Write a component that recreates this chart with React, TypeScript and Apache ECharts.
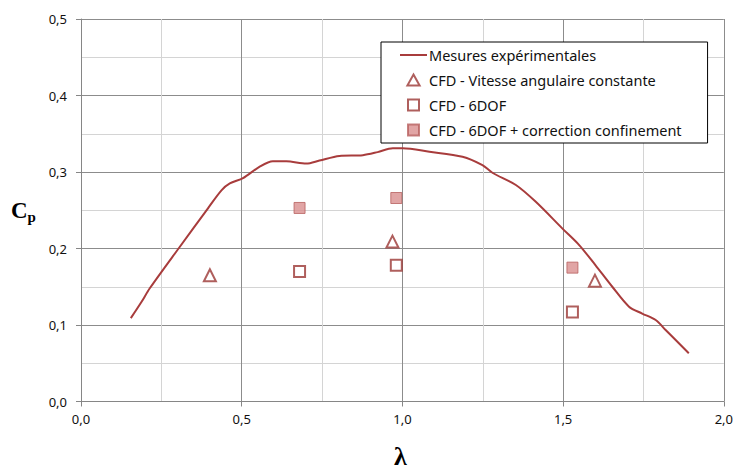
import React, { useEffect, useRef } from "react";
import * as echarts from "echarts";

const seriesNames = [
  "Mesures expérimentales",
  "CFD - Vitesse angulaire constante",
  "CFD - 6DOF",
  "CFD - 6DOF + correction confinement",
];

const mesuresLambda = [0.155, 0.188, 0.214, 0.307, 0.395, 0.437, 0.463, 0.504, 0.556, 0.597, 0.639, 0.701, 0.742, 0.804, 0.877, 0.923, 0.97, 1.001, 1.084, 1.187, 1.249, 1.28, 1.353, 1.415, 1.498, 1.55, 1.601, 1.653, 1.705, 1.746, 1.788, 1.819, 1.891];
const mesuresCp = [0.109, 0.13, 0.148, 0.202, 0.2525, 0.276, 0.285, 0.292, 0.307, 0.314, 0.314, 0.311, 0.315, 0.321, 0.322, 0.326, 0.331, 0.331, 0.3265, 0.32, 0.309, 0.299, 0.283, 0.261, 0.226, 0.2045, 0.178, 0.15, 0.124, 0.115, 0.1065, 0.0935, 0.063];

const vitesseLambda = [0.401, 0.969, 1.599];
const vitesseCp = [0.165, 0.209, 0.158];

const dofLambda = [0.68, 0.981, 1.529];
const dofCp = [0.17, 0.178, 0.117];

const corrLambda = [0.68, 0.981, 1.529];
const corrCp = [0.253, 0.266, 0.175];

const zip = (xs: number[], ys: number[]) => xs.map((x, i) => [x, ys[i]]);
const fmt = (v: number) => v.toFixed(1).replace(".", ",");

const triIcon = "path://M5,0 L10,9 L0,9 Z";
const sqIcon = "path://M0,0 L10,0 L10,10 L0,10 Z";

export default function App() {
  const ref = useRef<HTMLDivElement>(null);
  useEffect(() => {
    if (!ref.current) return;
    const chart = echarts.init(ref.current, undefined, { renderer: "svg" });
    const dark = "#9B3734";
    chart.setOption({
      animation: false,
      backgroundColor: "#ffffff",
      grid: { left: 81, right: 11, top: 19, bottom: 68.5 },
      xAxis: {
        type: "value",
        min: 0,
        max: 2,
        interval: 0.5,
        axisLine: { show: true, lineStyle: { color: "#868686", width: 1 } },
        axisTick: { show: true, length: 5, lineStyle: { color: "#868686" } },
        axisLabel: { formatter: fmt, color: "#111", fontFamily: "Noto Sans", fontSize: 13, margin: 11 },
        splitLine: { show: true, lineStyle: { color: "#8c8c8c", width: 1 } },
        minorTick: { show: false, splitNumber: 2 },
        minorSplitLine: { show: true, lineStyle: { color: "#d4d4d4", width: 1 } },
      },
      yAxis: {
        type: "value",
        min: 0,
        max: 0.5,
        interval: 0.1,
        axisLine: { show: true, lineStyle: { color: "#868686", width: 1 } },
        axisTick: { show: true, length: 5, lineStyle: { color: "#868686" } },
        axisLabel: { formatter: fmt, color: "#111", fontFamily: "Noto Sans", fontSize: 13, margin: 14 },
        splitLine: { show: true, lineStyle: { color: "#8c8c8c", width: 1 } },
        minorTick: { show: false, splitNumber: 2 },
        minorSplitLine: { show: true, lineStyle: { color: "#d4d4d4", width: 1 } },
      },
      legend: {
        orient: "vertical",
        left: 381,
        top: 42,
        padding: [4, 26, 4, 18],
        itemWidth: 27,
        itemHeight: 11,
        itemGap: 7,
        symbolKeepAspect: true,
        backgroundColor: "#ffffff",
        borderColor: "#000000",
        borderWidth: 1,
        borderRadius: 0,
        textStyle: { fontFamily: "Noto Sans", fontSize: 14.5, lineHeight: 18, color: "#111", padding: [0, 0, 0, -3] },
        data: [
          { name: seriesNames[0], itemStyle: { opacity: 0 } },
          { name: seriesNames[1], icon: triIcon },
          { name: seriesNames[2], icon: sqIcon },
          { name: seriesNames[3], icon: sqIcon },
        ],
      },
      graphic: [
        {
          type: "text",
          left: 11,
          top: 199,
          style: {
            text: "{c|C}{p|p}",
            rich: {
              c: { fontFamily: "Liberation Serif", fontWeight: "bold", fontSize: 23, fill: "#000" },
              p: { fontFamily: "Liberation Serif", fontWeight: "bold", fontSize: 15, fill: "#000", padding: [12, 0, 0, 0] },
            },
          },
        },
        {
          type: "text",
          left: 394,
          top: 443,
          style: {
            text: "λ",
            fontFamily: "Liberation Serif",
            fontWeight: "bold",
            fontSize: 26,
            fill: "#000",
          },
        },
      ],
      series: [
        {
          name: seriesNames[0],
          type: "line",
          data: zip(mesuresLambda, mesuresCp),
          smooth: 0.3,
          showSymbol: false,
          symbol: "none",
          lineStyle: { color: "#A83C3C", width: 2 },
          itemStyle: { color: "#A83C3C" },
          z: 2,
        },
        {
          name: seriesNames[1],
          type: "scatter",
          data: zip(vitesseLambda, vitesseCp),
          symbol: "triangle",
          symbolSize: 12,
          itemStyle: { color: "#ffffff", borderColor: dark, borderWidth: 2 },
          z: 3,
        },
        {
          name: seriesNames[2],
          type: "scatter",
          data: zip(dofLambda, dofCp),
          symbol: "rect",
          symbolSize: 11,
          itemStyle: { color: "#ffffff", borderColor: dark, borderWidth: 2 },
          z: 3,
        },
        {
          name: seriesNames[3],
          type: "scatter",
          data: zip(corrLambda, corrCp),
          symbol: "rect",
          symbolSize: 11,
          itemStyle: { color: "#D98F8F", borderColor: "#B8605F", borderWidth: 1 },
          z: 3,
        },
      ],
    });
    return () => chart.dispose();
  }, []);
  return <div ref={ref} style={{ width: 736, height: 470, position: "absolute", left: 0, top: 0 }} />;
}
